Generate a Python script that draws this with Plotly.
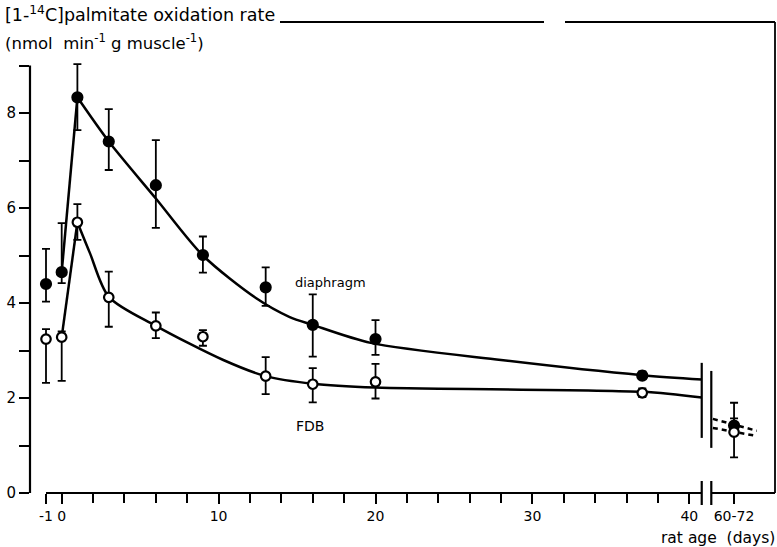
import plotly.graph_objects as go

# ---- data -------------------------------------------------------------
# age groups (days); the adult group is shown past the axis break
age_days = [-1, 0, 1, 3, 6, 9, 13, 16, 20, 37]
adult_label = "60-72"
adult_pos = 42.85  # placement of the adult group on the broken axis

# diaphragm: means and error-bar ends
diaphragm = [4.40, 4.65, 8.33, 7.40, 6.48, 5.01, 4.33, 3.54, 3.24, 2.47]
diaphragm_hi = [5.14, 5.68, 9.03, 8.08, 7.43, 5.40, 4.75, 4.18, 3.64, 2.56]
diaphragm_lo = [4.03, 4.42, 7.64, 6.80, 5.58, 4.64, 3.94, 2.87, 2.91, 2.40]
diaphragm_adult, diaphragm_adult_hi, diaphragm_adult_lo = 1.42, 1.90, 1.25

# FDB: means and error-bar ends
fdb = [3.24, 3.28, 5.70, 4.12, 3.52, 3.29, 2.46, 2.29, 2.34, 2.11]
fdb_hi = [3.45, 3.40, 6.08, 4.66, 3.80, 3.43, 2.86, 2.63, 2.72, 2.20]
fdb_lo = [2.32, 2.36, 5.33, 3.50, 3.26, 3.10, 2.08, 1.91, 1.99, 2.02]
fdb_adult, fdb_adult_hi, fdb_adult_lo = 1.28, 1.57, 0.75

# hand-drawn trend curves
diaphragm_rise_x = [0, 1]
diaphragm_rise_y = [4.65, 8.33]
diaphragm_fall_x = [1, 3, 6, 9, 12.4, 14.5, 16, 19.7, 28, 37, 40.8]
diaphragm_fall_y = [8.33, 7.40, 6.20, 5.00, 4.10, 3.71, 3.54, 3.16, 2.80, 2.48, 2.39]
fdb_rise_x = [0, 1]
fdb_rise_y = [3.28, 5.70]
fdb_fall_x = [1, 1.8, 3, 6, 10.3, 13, 16, 20, 37, 40.8]
fdb_fall_y = [5.70, 5.05, 4.13, 3.52, 2.80, 2.46, 2.30, 2.22, 2.13, 2.01]

# dashed continuations beside the adult group
diaphragm_dash_x = [41.5, 44.3]
diaphragm_dash_y = [1.56, 1.31]
fdb_dash_x = [41.5, 44.3]
fdb_dash_y = [1.37, 1.20]

x_tick_vals = [-1, 0, 10, 20, 30, 40, adult_pos]
x_tick_text = ["-1", "0", "10", "20", "30", "40", adult_label]
x_minor_vals = [d for d in range(2, 40, 2) if d % 10]
y_tick_vals = [0, 2, 4, 6, 8]
y_tick_text = ["0", "2", "4", "6", "8"]
y_minor_vals = [1, 3, 5, 7, 9]

# ---- geometry ---------------------------------------------------------
W, H = 777, 547
ML, MR, MT, MB = 30, 2, 22, 54
X0, X1 = -2.02, 45.46
Y0, Y1 = 0.0, 9.916
BREAK_A, BREAK_B = 40.79, 41.4

FONT = "DejaVu Sans"
BLACK = "black"


def xp(day):
    return (day - X0) / (X1 - X0)


def yp(val):
    return (val - Y0) / (Y1 - Y0)


def pix_x(px):
    return (px - ML) / (W - ML - MR)


def pix_y(py):
    return (H - MB - py) / (H - MT - MB)


fig = go.Figure()

for xs, ys, shape in [
    (diaphragm_rise_x, diaphragm_rise_y, "linear"),
    (diaphragm_fall_x, diaphragm_fall_y, "spline"),
    (fdb_rise_x, fdb_rise_y, "linear"),
    (fdb_fall_x, fdb_fall_y, "spline"),
]:
    fig.add_trace(go.Scatter(x=xs, y=ys, mode="lines",
                             line=dict(color=BLACK, width=2.5, shape=shape, smoothing=0.8),
                             hoverinfo="skip"))

for xs, ys in [(diaphragm_dash_x, diaphragm_dash_y), (fdb_dash_x, fdb_dash_y)]:
    fig.add_trace(go.Scatter(x=xs, y=ys, mode="lines",
                             line=dict(color=BLACK, width=2.5, dash="5px,4px"),
                             hoverinfo="skip"))


def err_trace(xs, ys, hi, lo, filled):
    return go.Scatter(
        x=xs, y=ys, mode="markers",
        error_y=dict(type="data", symmetric=False,
                     array=[h - y for h, y in zip(hi, ys)],
                     arrayminus=[y - l for l, y in zip(lo, ys)],
                     color=BLACK, thickness=1.8, width=4),
        marker=dict(symbol="circle", size=10 if filled else 9.5,
                    color=BLACK if filled else "white",
                    line=dict(color=BLACK, width=2.2)),
    )


fig.add_trace(err_trace(age_days + [adult_pos], diaphragm + [diaphragm_adult],
                        diaphragm_hi + [diaphragm_adult_hi],
                        diaphragm_lo + [diaphragm_adult_lo], True))
fig.add_trace(err_trace(age_days + [adult_pos], fdb + [fdb_adult],
                        fdb_hi + [fdb_adult_hi], fdb_lo + [fdb_adult_lo], False))

shapes = []


def seg(x0, y0, x1, y1, w=2.2):
    shapes.append(dict(type="line", xref="paper", yref="paper",
                       x0=x0, y0=y0, x1=x1, y1=y1,
                       line=dict(color=BLACK, width=w)))


# y axis from 0 to 9
seg(0, yp(0), 0, yp(9))
# x axis, broken between the juvenile and adult ages
seg(xp(-1), 0, xp(BREAK_A), 0)
seg(xp(BREAK_B), 0, 1, 0)
# break marks across the x axis
for b in (BREAK_A, BREAK_B):
    seg(xp(b), pix_y(481), xp(b), pix_y(505))
# break marks inside the plot
seg(xp(BREAK_A), yp(2.74), xp(BREAK_A), yp(1.16))
seg(xp(BREAK_B), yp(2.57), xp(BREAK_B), yp(0.95))
# frame: right side and top
seg(1, 0, 1, 1, 1.8)
seg(pix_x(280), 1, pix_x(544), 1, 1.8)
seg(pix_x(565), 1, 1, 1, 1.8)

annotations = [
    dict(text="[1-<sup>14</sup>C]palmitate oxidation rate", xref="paper", yref="paper",
         x=pix_x(3), y=pix_y(14), xanchor="left", yanchor="middle",
         showarrow=False, font=dict(family=FONT, size=17.5, color=BLACK)),
    dict(text="(nmol  min<sup>-1</sup> g muscle<sup>-1</sup>)", xref="paper", yref="paper",
         x=pix_x(3), y=pix_y(42), xanchor="left", yanchor="middle",
         showarrow=False, font=dict(family=FONT, size=16.5, color=BLACK)),
    dict(text="diaphragm", xref="x", yref="y", x=17.1, y=4.44,
         showarrow=False, font=dict(family=FONT, size=13, color=BLACK)),
    dict(text="FDB", xref="x", yref="y", x=15.8, y=1.41,
         showarrow=False, font=dict(family=FONT, size=14, color=BLACK)),
    dict(text="rat age  (days)", xref="paper", yref="paper",
         x=pix_x(777), y=pix_y(538), xanchor="right", yanchor="middle",
         showarrow=False, font=dict(family=FONT, size=15.5, color=BLACK)),
]

fig.update_layout(
    width=W, height=H,
    margin=dict(l=ML, r=MR, t=MT, b=MB),
    paper_bgcolor="white", plot_bgcolor="white",
    showlegend=False,
    shapes=shapes,
    annotations=annotations,
    xaxis=dict(range=[X0, X1], showgrid=False, zeroline=False, showline=False,
               ticks="outside", ticklen=10, tickwidth=2, tickcolor=BLACK,
               tickmode="array", tickvals=x_tick_vals, ticktext=x_tick_text,
               tickfont=dict(family=FONT, size=14, color=BLACK),
               minor=dict(tickmode="array", tickvals=x_minor_vals, ticks="outside",
                          ticklen=9, tickwidth=2, tickcolor=BLACK, showgrid=False)),
    yaxis=dict(range=[Y0, Y1], showgrid=False, zeroline=False, showline=False,
               ticks="outside", ticklen=10, tickwidth=2, tickcolor=BLACK,
               tickmode="array", tickvals=y_tick_vals, ticktext=y_tick_text,
               tickfont=dict(family=FONT, size=15, color=BLACK),
               minor=dict(tickmode="array", tickvals=y_minor_vals, ticks="outside",
                          ticklen=10, tickwidth=2, tickcolor=BLACK, showgrid=False)),
)

fig.write_html("out.html")
